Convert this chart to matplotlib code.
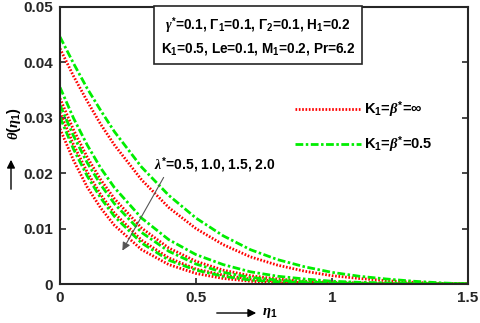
import matplotlib.pyplot as plt
import numpy as np

eta = [0, 0.05, 0.1, 0.15, 0.2, 0.3, 0.4, 0.5, 0.6, 0.7, 0.8, 0.9, 1.0, 1.1, 1.2, 1.3, 1.4, 1.5]

# K1 = beta* = inf (red dotted), lambda* = 0.5, 1.0, 1.5, 2.0
red_05 = [0.0425, 0.0375, 0.0330, 0.0288, 0.0251, 0.0188, 0.0138, 0.0100, 0.0071, 0.0049, 0.0034, 0.0023, 0.0015, 0.0010, 0.0006, 0.0003, 0.0001, 0.0]
red_10 = [0.0335, 0.0278, 0.0229, 0.0188, 0.0154, 0.0101, 0.0065, 0.0041, 0.0025, 0.0015, 0.0009, 0.0005, 0.0003, 0.0002, 0.0001, 0.0, 0.0, 0.0]
red_15 = [0.0310, 0.0251, 0.0202, 0.0161, 0.0128, 0.0079, 0.0047, 0.0027, 0.0016, 0.0009, 0.0005, 0.0002, 0.0001, 0.0, 0.0, 0.0, 0.0, 0.0]
red_20 = [0.0280, 0.0223, 0.0175, 0.0137, 0.0106, 0.0062, 0.0035, 0.0019, 0.0010, 0.0005, 0.0002, 0.0001, 0.0, 0.0, 0.0, 0.0, 0.0, 0.0]

# K1 = beta* = 0.5 (green dash-dot)
grn_05 = [0.0446, 0.0398, 0.0353, 0.0313, 0.0275, 0.0211, 0.0160, 0.0119, 0.0087, 0.0062, 0.0044, 0.0031, 0.0021, 0.0014, 0.0009, 0.0005, 0.0002, 0.0]
grn_10 = [0.0355, 0.0299, 0.0251, 0.0209, 0.0174, 0.0119, 0.0080, 0.0053, 0.0035, 0.0022, 0.0014, 0.0009, 0.0005, 0.0003, 0.0002, 0.0001, 0.0, 0.0]
grn_15 = [0.0323, 0.0267, 0.0219, 0.0179, 0.0145, 0.0093, 0.0059, 0.0036, 0.0021, 0.0012, 0.0007, 0.0004, 0.0002, 0.0001, 0.0, 0.0, 0.0, 0.0]
grn_20 = [0.0301, 0.0243, 0.0195, 0.0155, 0.0122, 0.0074, 0.0043, 0.0025, 0.0014, 0.0007, 0.0004, 0.0002, 0.0001, 0.0, 0.0, 0.0, 0.0, 0.0]

xticks = [0, 0.5, 1, 1.5]
xticklabels = ['0', '0.5', '1', '1.5']
yticks = [0, 0.01, 0.02, 0.03, 0.04, 0.05]
yticklabels = ['0', '0.01', '0.02', '0.03', '0.04', '0.05']

plt.rcParams['font.family'] = ['Liberation Sans', 'DejaVu Sans']
plt.rcParams['font.weight'] = 'bold'
plt.rcParams['mathtext.fontset'] = 'custom'
plt.rcParams['mathtext.rm'] = 'Liberation Sans:bold'
plt.rcParams['mathtext.bf'] = 'Liberation Sans:bold'
plt.rcParams['mathtext.it'] = 'Liberation Serif:italic'

W, H = 480, 323
fig = plt.figure(figsize=(W / 100, H / 100), dpi=100)
ax = fig.add_axes([60 / W, 1 - 284 / H, 408 / W, 277 / H])

red_ls = (0, (0.6, 0.6))
grn_ls = (0, (2.8, 0.9, 0.9, 0.9))
lw = 2.0

hr = None
hg = None
for r in [red_05, red_10, red_15, red_20]:
    hr, = ax.plot(eta, r, color='#ff0000', linestyle=red_ls, lw=lw)
for g in [grn_05, grn_10, grn_15, grn_20]:
    hg, = ax.plot(eta, g, color='#00ee00', linestyle=grn_ls, lw=lw)

ax.set_xlim(0, 1.5)
ax.set_ylim(0, 0.05)
ax.set_xticks(xticks)
ax.set_xticklabels(xticklabels)
ax.set_yticks(yticks)
ax.set_yticklabels(yticklabels)
ax.tick_params(direction='in', top=True, right=True, length=4, width=1.2,
               labelsize=11, pad=5, color='#262626', labelcolor='#262626')
for s in ax.spines.values():
    s.set_linewidth(1.5)
    s.set_color('#262626')

# parameter box
ax.text(258 / W, 1 - 36 / H,
        r'$\gamma^{*}$=0.1, $\Gamma_1$=0.1, $\Gamma_2$=0.1, H$_1$=0.2' + '\n' +
        r'K$_1$=0.5, Le=0.1, M$_1$=0.2, Pr=6.2',
        transform=fig.transFigure, ha='center', va='center', fontsize=9.8,
        linespacing=1.5,
        bbox=dict(boxstyle='square,pad=0.5', fc='white', ec='#262626', lw=1.2))

leg = ax.legend([hr, hg], [r'K$_1$=$\beta^{*}$=$\infty$', r'K$_1$=$\beta^{*}$=0.5'],
                loc='upper left', bbox_to_anchor=(295 / W, 1 - 99 / H),
                bbox_transform=fig.transFigure, frameon=False, fontsize=10.5,
                handlelength=4.5, handletextpad=0.25, labelspacing=0.95,
                borderpad=0, borderaxespad=0)

# lambda* annotation
fig.text(154 / W, 1 - 165 / H, r'$\lambda^{*}$=0.5, 1.0, 1.5, 2.0', fontsize=10,
         ha='left', va='center')
ax.annotate('', xy=(121 / W, 1 - 253 / H), xytext=(165 / W, 1 - 175 / H),
            xycoords='figure fraction', textcoords='figure fraction',
            arrowprops=dict(arrowstyle='-|>', color='#555555', lw=0.8,
                            mutation_scale=12))

# axis labels with arrows
fig.text(14 / W, 1 - 124 / H, r'$\theta(\eta_1)$', rotation=90, fontsize=10.5,
         ha='center', va='center')
ax.annotate('', xy=(11 / W, 1 - 157 / H), xytext=(11 / W, 1 - 192 / H),
            xycoords='figure fraction', textcoords='figure fraction',
            arrowprops=dict(arrowstyle='-|>', color='black', lw=1.0, mutation_scale=12))
ax.annotate('', xy=(259 / W, 1 - 313 / H), xytext=(214 / W, 1 - 313 / H),
            xycoords='figure fraction', textcoords='figure fraction',
            arrowprops=dict(arrowstyle='-|>', color='black', lw=1.0, mutation_scale=12))
fig.text(262 / W, 1 - 313 / H, r'$\eta_1$', fontsize=10.5, ha='left', va='center')

fig.savefig('out.png', dpi=100)
